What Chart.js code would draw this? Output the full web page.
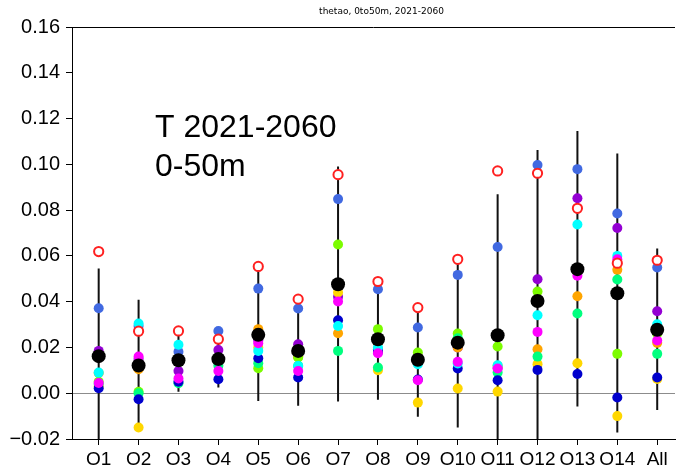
<!DOCTYPE html>
<html><head><meta charset="utf-8">
<script src="https://cdn.jsdelivr.net/npm/chart.js@4.4.1/dist/chart.umd.min.js"></script>
<style>html,body{margin:0;padding:0;background:#fff;}#wrap{width:682px;height:469px;}</style>
</head><body><div id="wrap"><canvas id="c" width="682" height="469"></canvas></div>
<script>
const categories = ['O1','O2','O3','O4','O5','O6','O7','O8','O9','O10','O11','O12','O13','O14','All'];
const yTicks = [-0.02, 0.00, 0.02, 0.04, 0.06, 0.08, 0.10, 0.12, 0.14, 0.16];
const titleText = 'thetao, 0to50m, 2021-2060';
const noteLines = ['T 2021-2060', '0-50m'];

const royalblue   = [0.0371, 0.0294, 0.0181, 0.0272, 0.0457, 0.0370, 0.0848, 0.0454, 0.0287, 0.0517, 0.0639, 0.0997, 0.0979, 0.0785, 0.0549];
const darkviolet  = [0.0185, 0.0150, 0.0097, 0.0189, 0.0230, 0.0214, 0.0421, 0.0192, 0.0160, 0.0200, 0.0110, 0.0498, 0.0852, 0.0722, 0.0358];
const gold        = [0.0030,-0.0150, 0.0140, 0.0150, 0.0200, 0.0160, 0.0440, 0.0100,-0.0041, 0.0021, 0.0007, 0.0127, 0.0131,-0.0100, 0.0062];
const orange      = [0.0088, 0.0105, 0.0140, 0.0150, 0.0280, 0.0160, 0.0262, 0.0220, 0.0140, 0.0200, 0.0120, 0.0192, 0.0424, 0.0539, 0.0220];
const lawngreen   = [0.0050, 0.0006, 0.0140, 0.0150, 0.0109, 0.0156, 0.0650, 0.0280, 0.0178, 0.0261, 0.0204, 0.0444, 0.0530, 0.0172, 0.0260];
const springgreen = [0.0040, 0.0000, 0.0044, 0.0120, 0.0131, 0.0120, 0.0185, 0.0112, 0.0140, 0.0240, 0.0090, 0.0160, 0.0348, 0.0497, 0.0172];
const mediumblue  = [0.0022,-0.0026, 0.0050, 0.0061, 0.0153, 0.0069, 0.0319, 0.0180, 0.0060, 0.0108, 0.0057, 0.0102, 0.0084,-0.0019, 0.0069];
const cyan        = [0.0090, 0.0305, 0.0212, 0.0140, 0.0185, 0.0119, 0.0294, 0.0200, 0.0127, 0.0130, 0.0122, 0.0341, 0.0737, 0.0600, 0.0301];
const magenta     = [0.0045, 0.0160, 0.0064, 0.0097, 0.0218, 0.0097, 0.0401, 0.0175, 0.0057, 0.0137, 0.0108, 0.0268, 0.0513, 0.0585, 0.0230];
const ensembleMean = [0.0162, 0.0121, 0.0144, 0.0149, 0.0255, 0.0185, 0.0476, 0.0236, 0.0146, 0.0221, 0.0253, 0.0403, 0.0542, 0.0437, 0.0277];
const observed     = [0.0619, 0.0271, 0.0272, 0.0236, 0.0554, 0.0411, 0.0955, 0.0488, 0.0374, 0.0585, 0.0971, 0.0961, 0.0808, 0.0568, 0.0581];
const rangeLow  = [-0.0300,-0.0150, 0.0006, 0.0025,-0.0034,-0.0055,-0.0036,-0.0029,-0.0103,-0.0150,-0.0300,-0.0300,-0.0058,-0.0172,-0.0073];
const rangeHigh = [ 0.0545, 0.0408, 0.0272, 0.0272, 0.0545, 0.0405, 0.0990, 0.0480, 0.0370, 0.0580, 0.0869, 0.1063, 0.1146, 0.1047, 0.0632];

const models = [
  ['royalblue', royalblue, '#4169E1'],
  ['darkviolet', darkviolet, '#9400D3'],
  ['gold', gold, '#FFD700'],
  ['orange', orange, '#FFA500'],
  ['lawngreen', lawngreen, '#7CFC00'],
  ['springgreen', springgreen, '#00FF7F'],
  ['mediumblue', mediumblue, '#0000CD'],
  ['cyan', cyan, '#00FFFF'],
  ['magenta', magenta, '#FF00FF']
];
const pts = arr => arr.map((v, i) => ({x: i + 1, y: v}));

const whisker = [];
categories.forEach((c, i) => {
  whisker.push({x: i + 1, y: rangeLow[i]}, {x: i + 1, y: rangeHigh[i]}, {x: i + 1, y: null});
});

const datasets = [];
datasets.push({label:'obs', data: pts(observed), pointRadius: 4.6, pointBackgroundColor:'#ffffff', pointBorderColor:'#ff2020', pointBorderWidth: 2});
datasets.push({label:'mean', data: pts(ensembleMean), pointRadius: 7, pointBackgroundColor:'#000000', pointBorderWidth: 0});
models.slice().reverse().forEach(m => {
  datasets.push({label: m[0], data: pts(m[1]), pointRadius: 5, pointBackgroundColor: m[2], pointBorderWidth: 0});
});
datasets.push({label:'range', data: whisker, showLine: true, spanGaps: false, borderColor:'#111111', borderWidth: 2, pointRadius: 0});

const decor = {
  id: 'decor',
  beforeDatasetsDraw(chart) {
    const {ctx, chartArea: a} = chart;
    ctx.save();
    ctx.strokeStyle = '#000';
    ctx.lineWidth = 1;
    ctx.beginPath();
    ctx.moveTo(a.left, a.top + 0.5);
    ctx.lineTo(a.right, a.top + 0.5);
    ctx.stroke();
    ctx.fillStyle = '#000';
    ctx.font = '9px "DejaVu Sans", sans-serif';
    ctx.textAlign = 'center';
    ctx.textBaseline = 'middle';
    ctx.fillText(titleText, a.left + 309.5, a.top - 15);
    ctx.restore();
  },
  afterDatasetsDraw(chart) {
    const {ctx, chartArea: a} = chart;
    ctx.save();
    ctx.fillStyle = '#000';
    ctx.font = '32px "Liberation Sans", Arial, sans-serif';
    ctx.textBaseline = 'alphabetic';
    ctx.fillText(noteLines[0], a.left + 83, a.top + 110);
    ctx.fillText(noteLines[1], a.left + 83, a.top + 149);
    ctx.restore();
  }
};

new Chart(document.getElementById('c'), {
  type: 'scatter',
  data: {datasets},
  options: {
    responsive: false,
    animation: false,
    devicePixelRatio: 1,
    layout: {padding: {top: 27, left: 0, right: 0, bottom: 0}},
    plugins: {
      legend: {display: false},
      tooltip: {enabled: false},
      title: {display: false}
    },
    scales: {
      x: {
        type: 'linear', min: 0.331, max: 15.446,
        afterBuildTicks: axis => { axis.ticks = categories.map((c, i) => ({value: i + 1})); },
        afterFit: s => { s.height = 30; },
        ticks: {callback: v => categories[Math.round(v) - 1] || '', color: '#000', padding: 3,
          font: {family: 'Liberation Sans', size: 19}, maxRotation: 0, autoSkip: false},
        grid: {drawOnChartArea: false, tickLength: 6, tickColor: '#000'},
        border: {display: true, color: '#000', width: 1}
      },
      y: {
        min: -0.02, max: 0.16,
        afterBuildTicks: axis => { axis.ticks = yTicks.map(v => ({value: v})); },
        afterFit: s => { s.width = 72; },
        ticks: {callback: v => (v < -1e-9 ? '\u2212' : '') + Math.abs(v).toFixed(2), color: '#000', padding: 6,
          font: {family: 'Liberation Sans', size: 20}},
        grid: {drawOnChartArea: true, tickLength: 6, tickColor: '#000',
          color: c => (c.tick && Math.abs(c.tick.value) < 1e-9) ? '#8c8c8c' : 'rgba(0,0,0,0)'},
        border: {display: true, color: '#000', width: 1}
      }
    }
  },
  plugins: [decor]
});
</script></body></html>
